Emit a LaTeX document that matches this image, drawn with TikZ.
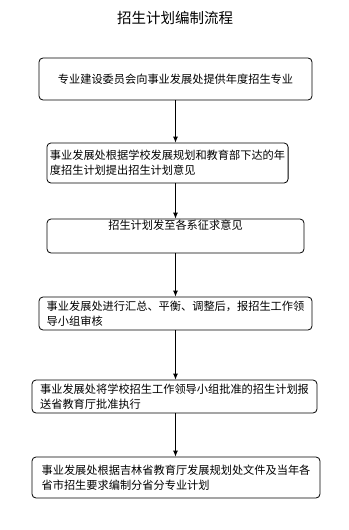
\documentclass[tikz,border=0pt]{standalone}
\usepackage{fontspec}
\newfontfamily\cjk{Noto Sans CJK SC}
\usetikzlibrary{positioning, arrows.meta}
\tikzstyle{block}=[draw,fill=white,rectangle,rounded corners=4pt,line width=0.8pt,align=left,inner sep=3pt,font=\cjk\fontsize{11.2}{15}\selectfont]
\tikzstyle{every node}=[font=\cjk]

\begin{document}
\begin{tikzpicture}[x=1pt,y=-1pt,>={Latex[length=6pt,width=5pt]}]
            \useasboundingbox (0,0) rectangle (348,530);
            \node[font=\cjk\fontsize{14.5}{16}\selectfont] (title) at (175,18) {招生计划编制流程};
            \node[block, minimum width=273pt, minimum height=42pt] (s1) at (175.5,79) {专业建设委员会向事业发展处提供年度招生专业};
            \node[block, minimum width=241pt, minimum height=40pt] (s2) at (167.5,163) {事业发展处根据学校发展规划和教育部下达的年\\度招生计划提出招生计划意见};
            \node[block, minimum width=257pt, minimum height=34pt, inner ysep=2pt, text height=8pt, text depth=22pt] (s3) at (175.5,236) {招生计划发至各系征求意见};
            \node[block, minimum width=273pt, minimum height=33pt] (s4) at (175.5,313.5) {事业发展处进行汇总、平衡、调整后，报招生工作领\\导小组审核};
            \node[block, minimum width=285pt, minimum height=33pt] (s5) at (174.5,396.5) {事业发展处将学校招生工作领导小组批准的招生计划报\\送省教育厅批准执行};
            \node[block, minimum width=288pt, minimum height=41pt] (s6) at (176,477.5) {事业发展处根据吉林省教育厅发展规划处文件及当年各\\省市招生要求编制分省分专业计划};
            \draw[->, line width=0.8pt] (s1.south) -- (s1.south |- s2.north);
            \draw[->, line width=0.8pt] (s1.south |- s2.south) -- (s1.south |- s3.north);
            \draw[->, line width=0.8pt] (s3.south) -- (s4.north);
            \draw[->, line width=0.8pt] (s4.south) -- (s4.south |- s5.north);
            \draw[->, line width=0.8pt] (s4.south |- s5.south) -- (s4.south |- s6.north);
        \end{tikzpicture}
\end{document}
